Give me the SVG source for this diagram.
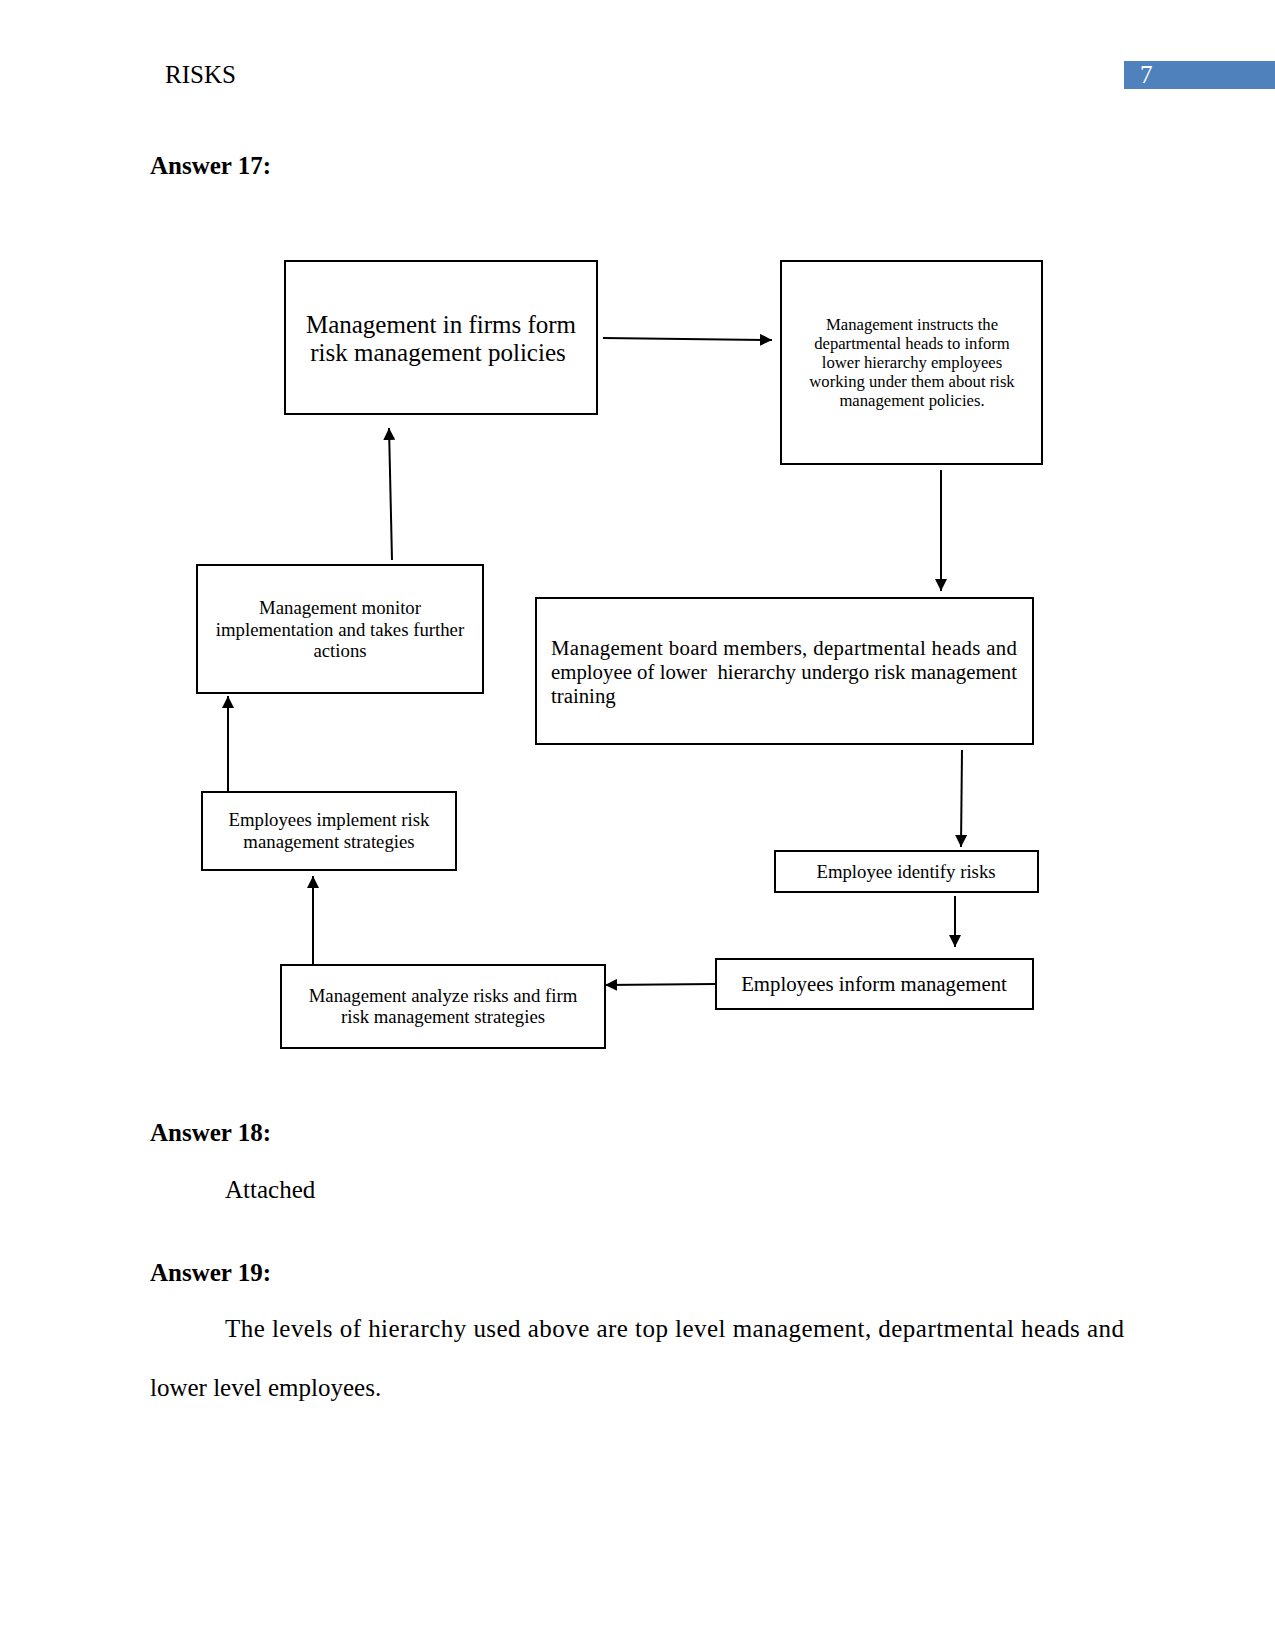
<svg xmlns="http://www.w3.org/2000/svg" width="1275" height="1651" viewBox="0 0 1275 1651">
<style>
text{font-family:"Liberation Serif","Times New Roman",serif;fill:#000}
.box{fill:#fff;stroke:#000;stroke-width:2}
.conn{stroke:#000;stroke-width:2;fill:none;marker-end:url(#ah)}
.c{text-anchor:middle}
.b{font-weight:bold;font-size:25px}
.t25{font-size:25px}
.t21{font-size:20.8px}
.t19{font-size:18.75px}
.t17{font-size:16.67px}
</style>
<defs>
<marker id="ah" viewBox="0 0 12 12" refX="12" refY="6" markerWidth="12" markerHeight="12" markerUnits="userSpaceOnUse" orient="auto">
<path d="M0,0 L12,6 L0,12 Z" fill="#000"/>
</marker>
</defs>
<rect width="1275" height="1651" fill="#fff"/>
<g id="header">
<text class="t25" x="165" y="83">RISKS</text>
<rect x="1124" y="61" width="151" height="28" fill="#4F81BD"/>
<text class="t25" x="1140" y="83" style="fill:#fff">7</text>
</g>
<text class="b" x="150" y="174">Answer 17:</text>
<g id="connectors">
<line class="conn" x1="603" y1="338" x2="772" y2="340"/>
<line class="conn" x1="941" y1="470" x2="941" y2="591"/>
<line class="conn" x1="962" y1="750" x2="961" y2="847"/>
<line class="conn" x1="955" y1="896" x2="955" y2="947"/>
<line class="conn" x1="715" y1="984" x2="605" y2="985"/>
<line class="conn" x1="313" y1="964" x2="313" y2="876"/>
<line class="conn" x1="228" y1="792" x2="228" y2="696"/>
<line class="conn" x1="392" y1="560" x2="389" y2="428"/>
</g>
<g id="n1">
<rect class="box" x="285" y="261" width="312" height="153"/>
<text class="t25 c" x="441" y="333">Management in firms form</text>
<text class="t25 c" x="438" y="361">risk management policies</text>
</g>
<g id="n2">
<rect class="box" x="781" y="261" width="261" height="203"/>
<text class="t17 c" x="912" y="330">Management instructs the</text>
<text class="t17 c" x="912" y="349">departmental heads to inform</text>
<text class="t17 c" x="912" y="368">lower hierarchy employees</text>
<text class="t17 c" x="912" y="387">working under them about risk</text>
<text class="t17 c" x="912" y="406">management policies.</text>
</g>
<g id="n3">
<rect class="box" x="536" y="598" width="497" height="146"/>
<text class="t21" x="551" y="655" textLength="466" lengthAdjust="spacing">Management board members, departmental heads and</text>
<text class="t21" x="551" y="679" textLength="466" lengthAdjust="spacing" xml:space="preserve">employee of lower  hierarchy undergo risk management</text>
<text class="t21" x="551" y="703">training</text>
</g>
<g id="n4">
<rect class="box" x="197" y="565" width="286" height="128"/>
<text class="t19 c" x="340" y="614">Management monitor</text>
<text class="t19 c" x="340" y="636">implementation and takes further</text>
<text class="t19 c" x="340" y="657">actions</text>
</g>
<g id="n5">
<rect class="box" x="202" y="792" width="254" height="78"/>
<text class="t19 c" x="329" y="826">Employees implement risk</text>
<text class="t19 c" x="329" y="848">management strategies</text>
</g>
<g id="n6">
<rect class="box" x="775" y="851" width="263" height="41"/>
<text class="t19 c" x="906" y="878">Employee identify risks</text>
</g>
<g id="n7">
<rect class="box" x="716" y="959" width="317" height="50"/>
<text class="t21 c" x="874" y="991">Employees inform management</text>
</g>
<g id="n8">
<rect class="box" x="281" y="965" width="324" height="83"/>
<text class="t19 c" x="443" y="1002">Management analyze risks and firm</text>
<text class="t19 c" x="443" y="1023">risk management strategies</text>
</g>
<text class="b" x="150" y="1141">Answer 18:</text>
<text class="t25" x="225" y="1198">Attached</text>
<text class="b" x="150" y="1281">Answer 19:</text>
<text class="t25" x="225" y="1337" textLength="899" lengthAdjust="spacing">The levels of hierarchy used above are top level management, departmental heads and</text>
<text class="t25" x="150" y="1396">lower level employees.</text>
</svg>
